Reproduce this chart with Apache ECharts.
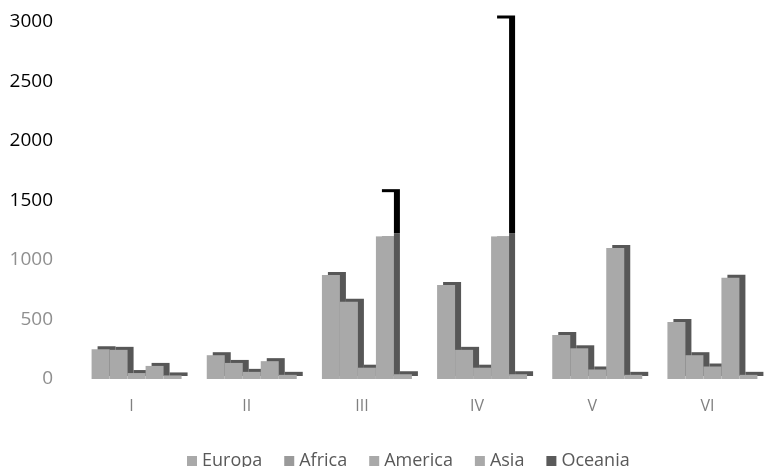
<!DOCTYPE html>
<html>
<head>
<meta charset="utf-8">
<script src="https://cdn.jsdelivr.net/npm/echarts@6/dist/echarts.min.js"></script>
<style>html,body{margin:0;padding:0;background:#fff}#c{width:770px;height:467px}</style>
</head>
<body>
<div id="c"></div>
<script>
var categories = ['I', 'II', 'III', 'IV', 'V', 'VI'];
var europa  = [250, 200, 875, 790, 370, 480];
var africa  = [245, 135, 650, 245, 258, 200];
var america = [50, 60, 95, 95, 80, 105];
var asia    = [110, 150, 1570, 3030, 1100, 850];
var oceania = [30, 35, 40, 40, 35, 35];
var yTicks  = [0, 500, 1000, 1500, 2000, 2500, 3000];
var clipLevel = 1200;

var face = '#a9a9a9';
var side = '#575757';
function barStyle(fill, shade) {
  return { color: fill, shadowColor: shade, shadowBlur: 0, shadowOffsetX: 6, shadowOffsetY: -3 };
}
var asiaLow = asia.map(function (v) { return Math.min(v, clipLevel); });
var asiaHigh = asia.map(function (v) { return Math.max(v - clipLevel, 0); });

var chart = echarts.init(document.getElementById('c'), null, { renderer: 'canvas' });
chart.setOption({
  animation: false,
  backgroundColor: '#fff',
  grid: { left: 79, top: 22, width: 707, height: 357, containLabel: false },
  legend: {
    left: 182, top: 447,
    itemWidth: 10, itemHeight: 10, itemGap: 22,
    icon: 'rect',
    textStyle: { fontFamily: 'Open Sans', fontSize: 18, color: '#595959' },
    data: [
      { name: 'Europa', itemStyle: { color: '#a9a9a9' } },
      { name: 'Africa', itemStyle: { color: '#9a9a9a' } },
      { name: 'America', itemStyle: { color: '#a9a9a9' } },
      { name: 'Asia', itemStyle: { color: '#a9a9a9' } },
      { name: 'Oceania', itemStyle: { color: '#5a5a5a' } }
    ]
  },
  xAxis: {
    type: 'category',
    data: categories,
    axisLine: { show: false },
    axisTick: { show: false },
    axisLabel: { fontFamily: 'Open Sans', fontSize: 16, color: '#808080', margin: 19, padding: [0, 10, 0, 0] }
  },
  yAxis: {
    type: 'value',
    min: 0, max: 3000, interval: 500,
    splitLine: { show: false },
    axisLine: { show: false },
    axisTick: { show: false },
    axisLabel: {
      fontFamily: 'Open Sans', fontSize: 19, margin: 26,
      formatter: function (v) { return String(v); },
      color: function (v) { return v >= yTicks[3] ? '#000000' : '#8f8f8f'; }
    }
  },
  series: [
    { name: 'Europa', type: 'bar', barWidth: 18, barGap: '0%', clip: false, data: europa, itemStyle: barStyle(face, side) },
    { name: 'Africa', type: 'bar', barWidth: 18, barGap: '0%', clip: false, data: africa, itemStyle: barStyle(face, side) },
    { name: 'America', type: 'bar', barWidth: 18, barGap: '0%', clip: false, data: america, itemStyle: barStyle(face, side) },
    { name: 'Asia', type: 'bar', stack: 'asia', barWidth: 18, barGap: '0%', clip: false, data: asiaLow, itemStyle: barStyle(face, side) },
    { name: 'Asia ', type: 'bar', stack: 'asia', barWidth: 18, barGap: '0%', clip: false, data: asiaHigh, itemStyle: barStyle('#ffffff', '#000000') },
    { name: 'Oceania', type: 'bar', barWidth: 18, barGap: '0%', clip: false, data: oceania, itemStyle: barStyle(face, side) }
  ]
});
</script>
</body>
</html>
